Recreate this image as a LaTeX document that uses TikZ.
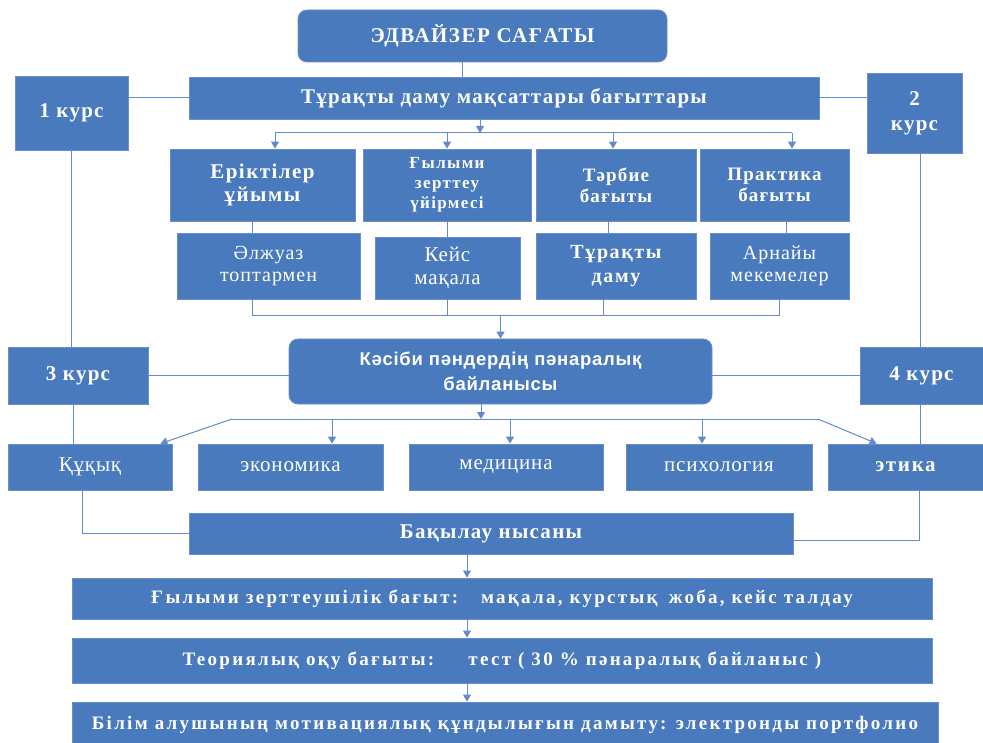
\documentclass[tikz,border=0pt]{standalone}
\usepackage{fontspec}
\setmainfont{Liberation Serif}
\newfontfamily\sansbold{Liberation Sans}
\usetikzlibrary{arrows.meta}

\definecolor{boxblue}{RGB}{74,122,190}
\definecolor{edgeblue}{RGB}{104,143,204}
\definecolor{lineblue}{RGB}{98,138,204}

\newcommand{\fs}[2]{\fontsize{#1}{#2}\selectfont}
\newcommand{\ls}[1]{\addfontfeatures{LetterSpace=#1}}

\begin{document}
\begin{tikzpicture}[x=1pt, y=-1pt,
    box/.style={draw=edgeblue, fill=boxblue, line width=0.8pt, text=white, align=center, inner sep=1pt},
    rbox/.style={box, rounded corners=9pt},
    conn/.style={draw=lineblue, line width=1pt},
    arr/.style={conn, -{Triangle[width=8pt,length=7pt]}}]
    \pgfmathsetmacro{\busa}{133}
    \pgfmathsetmacro{\busb}{316}
    \pgfmathsetmacro{\busc}{419}

    \useasboundingbox (0,0) rectangle (983,743);

    \node[rbox, minimum width=369, minimum height=52, font=\bfseries\fs{21}{24}\ls{7}] (advisor) at (482.5,36) {ЭДВАЙЗЕР САҒАТЫ};
    \node[box, minimum width=630, minimum height=42, font=\bfseries\fs{21}{24}\ls{6}] (goals) at (504,98) {Тұрақты даму мақсаттары бағыттары};
    \node[box, minimum width=113, minimum height=74, font=\bfseries\fs{21}{24}\ls{6}] (k1) at (71.5,113) {1 курс};
    \node[box, minimum width=95, minimum height=80, font=\bfseries\fs{21}{25}\ls{6}] (k2) at (914.5,113) {2\\курс};

    \node[box, minimum width=185, minimum height=72, font=\bfseries\fs{21}{23}\ls{7}] (erik) at (262.5,185) {Еріктілер\\ұйымы};
    \node[box, minimum width=168, minimum height=72, font=\bfseries\fs{17}{20}\ls{8}] (gylym) at (447,185) {Ғылыми\\зерттеу\\үйірмесі};
    \node[box, minimum width=160, minimum height=72, font=\bfseries\fs{19}{21}\ls{6}] (tarbie) at (616,185) {Тәрбие\\бағыты};
    \node[box, minimum width=149, minimum height=72, font=\bfseries\fs{19}{21}\ls{6}] (praktika) at (774.5,185) {Практика\\бағыты};

    \node[box, minimum width=183, minimum height=66, font=\fs{20}{22}\ls{5}] (alzh) at (268.5,266) {Әлжуаз\\топтармен};
    \node[box, minimum width=145, minimum height=62, font=\fs{21}{23}\ls{4}] (keis) at (447.5,268) {Кейс\\мақала};
    \node[box, minimum width=160, minimum height=66, font=\bfseries\fs{20}{24}\ls{8}] (turakty) at (616,266) {Тұрақты\\даму};
    \node[box, minimum width=139, minimum height=66, font=\fs{20}{22}\ls{5}] (arnai) at (779.5,266) {Арнайы\\мекемелер};

    \node[rbox, minimum width=423, minimum height=65, font=\sansbold\bfseries\fs{18.5}{25}\ls{4}] (kasibi) at (500.5,371.5) {Кәсіби пәндердің пәнаралық\\байланысы};
    \node[box, minimum width=140, minimum height=57, font=\bfseries\fs{21}{24}\ls{6}] (k3) at (78,375.5) {3 курс};
    \node[box, minimum width=123, minimum height=57, font=\bfseries\fs{21}{24}\ls{6}] (k4) at (921.5,375.5) {4 курс};

    \node[box, minimum width=164, minimum height=46, font=\fs{21}{24}\ls{4}] (kukyk) at (90,467) {Құқық};
    \node[box, minimum width=185, minimum height=46, font=\fs{21}{24}\ls{4}] (ekon) at (290.5,467) {экономика};
    \node[box, minimum width=194, minimum height=46, font=\fs{21}{24}\ls{4}] (med) at (506,467) {медицина};
    \node[box, minimum width=186, minimum height=46, font=\fs{21}{24}\ls{4}] (psych) at (719,467) {психология};
    \node[box, minimum width=155, minimum height=46, font=\bfseries\fs{21}{24}\ls{8}] (etika) at (905.5,467) {этика};

    \node[box, minimum width=604, minimum height=41, font=\bfseries\fs{21}{24}\ls{6}] (bakylau) at (491,533.5) {Бақылау нысаны};
    \node[box, minimum width=860, minimum height=41, font=\bfseries\fs{19}{22}\ls{12}] (res1) at (502,598.5) {Ғылыми зерттеушілік бағыт:\hspace{1.2em}мақала, курстық\hspace{0.6em}жоба, кейс талдау};
    \node[box, minimum width=860, minimum height=45, font=\bfseries\fs{19}{22}\ls{12}] (res2) at (502,660.5) {Теориялық оқу бағыты:\hspace{1.8em}тест ( 30 \% пәнаралық байланыс )};
    \node[box, minimum width=866, minimum height=46, font=\bfseries\fs{19}{22}\ls{12}] (res3) at (505,725) {Білім алушының мотивациялық құндылығын дамыту: электронды портфолио};

    \draw[conn] ([xshift=-20.5pt]advisor.south) -- ([xshift=-20.5pt]advisor.south |- goals.north);
    \draw[conn] (k1.east |- goals.west) -- (goals.west);
    \draw[conn] (goals.east) -- (goals.east -| k2.west);
    \draw[conn] (k1.south) -- (k1.south |- k3.north);
    \draw[conn] ([xshift=5.5pt]k2.south) -- ([xshift=5.5pt]k2.south |- k4.north);
    \draw[conn] (k3.east) -- (k3.east -| kasibi.west);
    \draw[conn] (k4.west) -- (k4.west -| kasibi.east);
    \draw[conn] ([xshift=-5pt]k3.south) -- ([xshift=-5pt]k3.south |- kukyk.north);
    \draw[conn] ([xshift=-1.5pt]k4.south) -- ([xshift=-1.5pt]k4.south |- etika.north);

    \coordinate (busL) at (275,\busa);
    \coordinate (busR) at (792,\busa);
    \draw[arr] ([xshift=-24pt]goals.south) -- ([xshift=-24pt]goals.south |- busL);
    \draw[conn] (busL) -- (busR);
    \draw[arr] (busL) -- (busL |- erik.north);
    \draw[arr] (gylym.north |- busL) -- (gylym.north);
    \draw[arr] ([xshift=-3pt]tarbie.north |- busL) -- ([xshift=-3pt]tarbie.north);
    \draw[arr] (busR) -- (busR |- praktika.north);

    \draw[conn] ([xshift=-10pt]erik.south) -- ([xshift=-10pt]erik.south |- alzh.north);
    \draw[conn] (gylym.south) -- (gylym.south |- keis.north);
    \draw[conn] ([xshift=-8pt]tarbie.south) -- ([xshift=-8pt]tarbie.south |- turakty.north);
    \draw[conn] ([xshift=11.5pt]praktika.south) -- ([xshift=11.5pt]praktika.south |- arnai.north);

    \coordinate (busM) at (252,\busb);
    \coordinate (busN) at (779,\busb);
    \draw[conn] (busM) -- (busN);
    \draw[conn] (busM) -- (busM |- alzh.south);
    \draw[conn] (keis.south) -- (keis.south |- busM);
    \draw[conn] ([xshift=-13pt]turakty.south) -- ([xshift=-13pt]turakty.south |- busM);
    \draw[conn] (busN) -- (busN |- arnai.south);
    \draw[arr] (kasibi.north |- busM) -- (kasibi.north);

    \coordinate (busE) at (232,\busc);
    \coordinate (busF) at (818,\busc);
    \draw[arr] ([xshift=-19.5pt]kasibi.south) -- ([xshift=-19.5pt]kasibi.south |- busE);
    \draw[conn] (busE) -- (busF);
    \draw[arr] (busE) -- ([xshift=-12pt]kukyk.north east);
    \draw[arr] (busF) -- ([xshift=49pt]etika.north west);
    \draw[arr] ([xshift=41.5pt]ekon.north |- busE) -- ([xshift=41.5pt]ekon.north);
    \draw[arr] ([xshift=4pt]med.north |- busE) -- ([xshift=4pt]med.north);
    \draw[arr] ([xshift=-17pt]psych.north |- busE) -- ([xshift=-17pt]psych.north);

    \draw[conn] ([xshift=-8pt]kukyk.south) |- (bakylau.west);
    \draw[conn] ([xshift=14pt]etika.south) |- ([yshift=-7pt]bakylau.east);
    \draw[arr] ([xshift=-24pt]bakylau.south) -- ([xshift=-24pt]bakylau.south |- res1.north);
    \draw[arr] ([xshift=-35pt]res1.south) -- ([xshift=-35pt]res1.south |- res2.north);
    \draw[arr] ([xshift=-35pt]res2.south) -- ([xshift=-35pt]res2.south |- res3.north);
\end{tikzpicture}
\end{document}
